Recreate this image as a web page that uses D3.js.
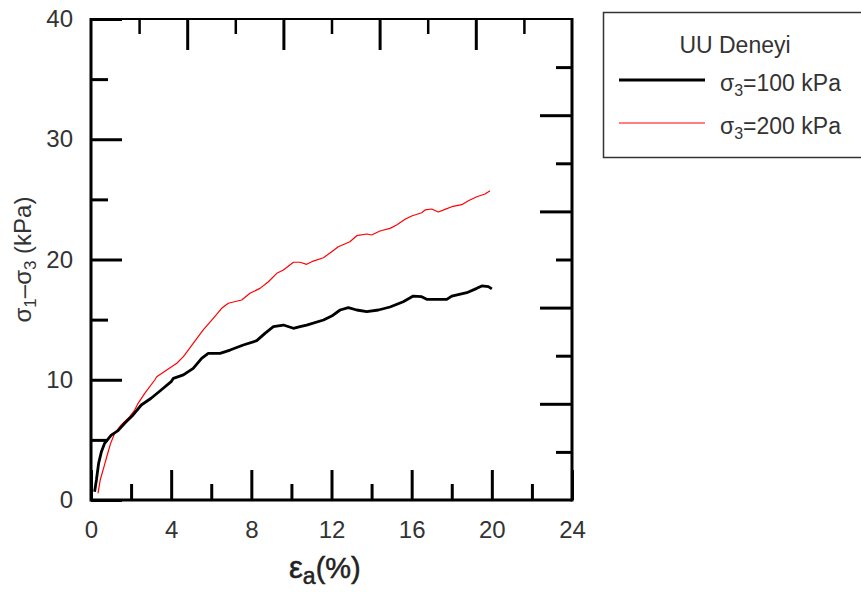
<!DOCTYPE html>
<html>
<head>
<meta charset="utf-8">
<script src="https://cdn.jsdelivr.net/npm/d3@7"></script>
<style>
  html, body { margin: 0; padding: 0; background: #fff; }
  svg { display: block; font-family: "Liberation Sans", Arial, sans-serif; }
</style>
</head>
<body>
<svg id="chart" width="861" height="592"></svg>
<script>
// ---- data ----
const strain100 = [0.18,0.27,0.38,0.52,0.68,1.01,1.35,1.68,2.1,2.51,3.0,3.5,4.0,4.11,4.61,5.1,5.52,5.85,6.44,6.94,7.6,8.27,8.68,9.1,9.6,10.1,10.43,10.76,11.6,12.01,12.43,12.84,13.26,13.76,14.34,14.92,15.58,16.08,16.5,16.75,17.75,18.0,18.75,19.25,19.5,19.83,20.0];
const stress100 = [0.69,1.66,3.05,4.02,4.71,5.4,5.77,6.38,7.07,7.9,8.46,9.15,9.84,10.12,10.4,10.95,11.78,12.2,12.2,12.47,12.89,13.25,13.86,14.41,14.55,14.28,14.41,14.55,14.97,15.3,15.8,15.99,15.8,15.66,15.8,16.05,16.49,16.96,16.91,16.69,16.69,16.96,17.24,17.6,17.8,17.74,17.55];
const strain200 = [0.35,0.46,0.65,0.81,0.98,1.18,1.51,1.93,2.18,2.35,2.68,3.18,3.28,3.78,4.28,4.61,5.1,5.6,6.1,6.52,6.85,7.52,7.93,8.43,8.85,9.27,9.6,10.1,10.43,10.76,11.09,11.6,12.01,12.34,12.92,13.26,13.76,14.0,14.42,14.92,15.25,15.67,16.0,16.5,16.67,17.0,17.33,17.66,18.0,18.5,18.83,19.25,19.66,19.91];
const stress200 = [0.56,1.66,2.77,3.74,4.71,5.55,6.24,6.93,7.48,8.04,8.87,9.98,10.25,10.81,11.37,11.92,13.03,14.14,15.1,15.94,16.36,16.63,17.19,17.6,18.15,18.85,19.13,19.77,19.77,19.6,19.87,20.15,20.65,21.06,21.48,21.98,22.12,22.04,22.37,22.59,22.87,23.34,23.62,23.89,24.12,24.2,23.95,24.17,24.39,24.56,24.89,25.22,25.45,25.72];

const xMajor = [0,4,8,12,16,20,24];
const xMinor = [2,6,10,14,18,22];
const yMajor = [0,10,20,30,40];
const yMinor = [5,15,25,35];
const auxMajor = [2,4,6,8];
const auxMinor = [1,3,5,7,9];

const legendTitle = "UU Deneyi";
const seriesNames = ["100 kPa", "200 kPa"];
const seriesColors = ["#000000", "#ff0000"];

// ---- layout ----
const L = 91, T = 19, R = 572, B = 500;
const svg = d3.select("#chart");
const x = d3.scaleLinear().domain([0,24]).range([L,R]);
const y = d3.scaleLinear().domain([0,40]).range([B,T]);
const xa = d3.scaleLinear().domain([0,10]).range([L,R]);
const ya = d3.scaleLinear().domain([0,10]).range([B,T]);

const font = "Liberation Sans, Arial, sans-serif";

function styleAxis(g, w) {
  g.select(".domain").remove();
  g.selectAll(".tick line").attr("stroke", "#000").attr("stroke-width", w);
  g.selectAll(".tick text").attr("fill", "#333").attr("font-size", 24).attr("font-family", font);
}

// bottom axis
svg.append("g").attr("transform", `translate(0,${B})`)
  .call(d3.axisBottom(x).tickValues(xMajor).tickSize(-30).tickPadding(21).tickFormat(d3.format("d")))
  .call(g => styleAxis(g, 3));
svg.append("g").attr("transform", `translate(0,${B})`)
  .call(d3.axisBottom(x).tickValues(xMinor).tickSize(-16).tickFormat(""))
  .call(g => styleAxis(g, 3));

// left axis
svg.append("g").attr("transform", `translate(${L},0)`)
  .call(d3.axisLeft(y).tickValues(yMajor).tickSize(-31).tickPadding(18).tickFormat(d3.format("d")))
  .call(g => styleAxis(g, 3));
svg.append("g").attr("transform", `translate(${L},0)`)
  .call(d3.axisLeft(y).tickValues(yMinor).tickSize(-17).tickFormat(""))
  .call(g => styleAxis(g, 3));

// top axis (unlabelled)
svg.append("g").attr("transform", `translate(0,${T})`)
  .call(d3.axisTop(xa).tickValues(auxMajor).tickSize(-31).tickFormat(""))
  .call(g => styleAxis(g, 3));
svg.append("g").attr("transform", `translate(0,${T})`)
  .call(d3.axisTop(xa).tickValues(auxMinor).tickSize(-15).tickFormat(""))
  .call(g => styleAxis(g, 2.5));

// right axis (unlabelled)
svg.append("g").attr("transform", `translate(${R},0)`)
  .call(d3.axisRight(ya).tickValues(auxMajor).tickSize(-32).tickFormat(""))
  .call(g => styleAxis(g, 3));
svg.append("g").attr("transform", `translate(${R},0)`)
  .call(d3.axisRight(ya).tickValues(auxMinor).tickSize(-16).tickFormat(""))
  .call(g => styleAxis(g, 3));

// frame
svg.append("line").attr("x1", L).attr("x2", R).attr("y1", B).attr("y2", B).attr("stroke", "#000").attr("stroke-width", 3);
svg.append("line").attr("x1", L).attr("x2", L).attr("y1", T - 1).attr("y2", B + 1.5).attr("stroke", "#000").attr("stroke-width", 3);
svg.append("line").attr("x1", R).attr("x2", R).attr("y1", T - 1).attr("y2", B + 1.5).attr("stroke", "#000").attr("stroke-width", 3);
svg.append("line").attr("x1", L).attr("x2", R).attr("y1", T).attr("y2", T).attr("stroke", "#000").attr("stroke-width", 2);

// curves
const line = d3.line().x(d => x(d[0])).y(d => y(d[1]));
svg.append("path").datum(d3.zip(strain200, stress200))
  .attr("d", line).attr("fill", "none").attr("stroke", seriesColors[1]).attr("stroke-width", 1.2)
  .attr("stroke-linejoin", "round");
svg.append("path").datum(d3.zip(strain100, stress100))
  .attr("d", line).attr("fill", "none").attr("stroke", seriesColors[0]).attr("stroke-width", 2.8)
  .attr("stroke-linejoin", "round");

// axis titles
const xt = svg.append("text").attr("x", 289).attr("y", 578).attr("font-family", font)
  .attr("font-size", 29).attr("fill", "#222").attr("stroke", "#222").attr("stroke-width", 0.5);
xt.append("tspan").attr("font-size", 31).text("ε");
xt.append("tspan").attr("font-size", 23).attr("dy", 6).text("a");
xt.append("tspan").attr("dy", -6).text("(%)");

const yt = svg.append("text").attr("transform", `translate(31,${(T + B) / 2}) rotate(-90)`)
  .attr("text-anchor", "middle").attr("font-family", font).attr("font-size", 24).attr("fill", "#333");
yt.append("tspan").text("σ");
yt.append("tspan").attr("font-size", 17).attr("dy", 5).text("1");
yt.append("tspan").attr("dy", -5).text("–σ");
yt.append("tspan").attr("font-size", 17).attr("dy", 5).text("3");
yt.append("tspan").attr("dy", -5).text(" (kPa)");

// legend
const lg = svg.append("g");
lg.append("rect").attr("x", 603.5).attr("y", 12.5).attr("width", 300).attr("height", 145)
  .attr("fill", "#fff").attr("stroke", "#333").attr("stroke-width", 1.5);
lg.append("text").attr("x", 735).attr("y", 53).attr("text-anchor", "middle")
  .attr("font-family", font).attr("font-size", 23).attr("fill", "#333").text(legendTitle);
const rowsY = [80, 123];
seriesNames.forEach((n, i) => {
  lg.append("line").attr("x1", 619).attr("x2", 705).attr("y1", rowsY[i]).attr("y2", rowsY[i])
    .attr("stroke", seriesColors[i]).attr("stroke-width", i === 0 ? 3 : 1.2);
  const t = lg.append("text").attr("x", 720).attr("y", rowsY[i] + 11)
    .attr("font-family", font).attr("font-size", 23).attr("fill", "#333");
  t.append("tspan").text("σ");
  t.append("tspan").attr("font-size", 16).attr("dy", 5).text("3");
  t.append("tspan").attr("dy", -5).text("=" + n);
});
</script>
</body>
</html>
